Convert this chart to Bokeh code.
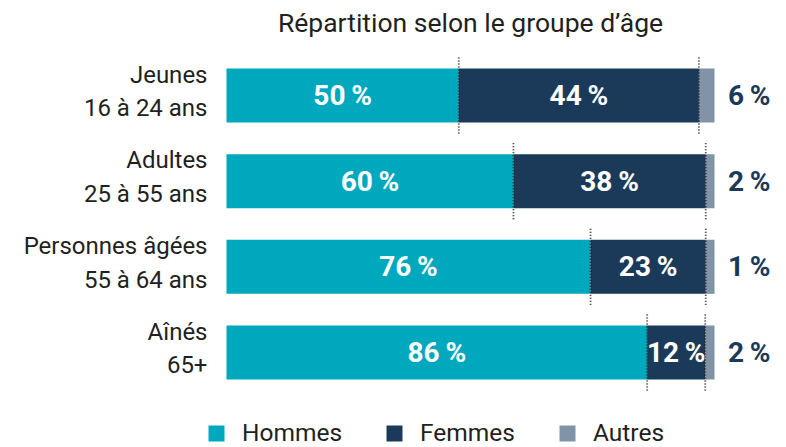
import numpy as np
from bokeh.plotting import figure
from bokeh.models import (ColumnDataSource, Range1d, FactorRange, Label, Legend, LegendItem)
from bokeh.transform import dodge
from bokeh.core.properties import value
from bokeh.embed import file_html
from bokeh.resources import INLINE

# ---- data ----
categories = ["Jeunes\n16 à 24 ans", "Adultes\n25 à 55 ans",
              "Personnes âgées\n55 à 64 ans", "Aînés\n65+"]
hommes = [47.6, 58.8, 74.6, 86.2]      # bar shares
femmes = [49.2, 39.4, 23.6, 11.9]
autres = [3.2, 1.8, 1.8, 1.9]
hommes_pct = [50, 60, 76, 86]          # printed labels
femmes_pct = [44, 38, 23, 12]
autres_pct = [6, 2, 1, 2]
series_names = ["Hommes", "Femmes", "Autres"]
title_text = "Répartition selon le groupe d’âge"

C_H = "#00A8BE"
C_F = "#1B3A5A"
C_A = "#8193A6"
C_TXT = "#231F20"
FONT = "Roboto"

h = np.array(hommes); f = np.array(femmes); a = np.array(autres)
src = ColumnDataSource(dict(
    cat=categories,
    zero=np.zeros(4),
    h0=np.zeros(4), h1=h, f0=h, f1=h + f, a0=h + f, a1=h + f + a,
    hmid=h / 2, fmid=h + f / 2,
    hl=[f"{v}\u2009%" for v in hommes_pct],
    fl=[f"{v}\u2009%" for v in femmes_pct],
    al=[f"{v}\u2009%" for v in autres_pct],
))

W, H = 786, 447
PX = 4.88  # pixels per percent
X0 = 226   # pixel position of 0 %
p = figure(width=W, height=H, output_backend="svg", toolbar_location=None,
           x_range=Range1d(-X0 / PX, (W - X0) / PX),
           y_range=FactorRange(*reversed(categories), range_padding=0.609,
                               range_padding_units="absolute"),
           x_axis_location=None, y_axis_location=None,
           min_border_left=0, min_border_right=0, min_border_top=0, min_border_bottom=0)
p.outline_line_color = None
p.grid.visible = False
p.background_fill_color = "white"
p.border_fill_color = "white"

BH = 0.63
rh = p.hbar(y="cat", left="h0", right="h1", height=BH, source=src, color=C_H, line_color=None)
rf = p.hbar(y="cat", left="f0", right="f1", height=BH, source=src, color=C_F, line_color=None)
ra = p.hbar(y="cat", left="a0", right="a1", height=BH, source=src, color=C_A, line_color=None)

# dotted boundary lines
for col in ["f0", "a0"]:
    p.segment(x0=col, x1=col,
              y0=dodge("cat", -0.444, range=p.y_range),
              y1=dodge("cat", 0.444, range=p.y_range),
              source=src, line_color=C_TXT, line_width=1.8, line_dash="1 2")

# category labels
p.text(x="zero", y="cat", text="cat", source=src, x_offset=-19, y_offset=-4,
       text_align="right", text_baseline="middle", text_font=value(FONT),
       text_font_size="24px", text_line_height=1.2, text_color=C_TXT)

common = dict(source=src, text_font=value(FONT), text_font_size="28px",
              text_font_style="bold", text_baseline="middle")
p.text(x="hmid", y="cat", text="hl", text_align="center", text_color="white", **common)
p.text(x="fmid", y="cat", text="fl", text_align="center", text_color="white", **common)
p.text(x="a1", y="cat", text="al", text_align="right", x_offset=56, text_color=C_F, **common)

p.add_layout(Label(x=470, y=H - 22, x_units="screen", y_units="screen", text=title_text,
                   text_align="center", text_baseline="middle", text_font=FONT,
                   text_font_size="26.5px", text_color=C_TXT))

legend = Legend(items=[LegendItem(label=n, renderers=[r]) for n, r in zip(series_names, [rh, rf, ra])],
                orientation="horizontal", location=(206, 0),
                glyph_width=20, glyph_height=20, label_standoff=16, spacing=42,
                padding=0, margin=0, border_line_color=None, background_fill_alpha=0,
                label_text_font=FONT, label_text_font_size="24.5px", label_text_color=C_TXT,
                label_height=20)
p.add_layout(legend)

open("out.html", "w").write(file_html(p, INLINE))
